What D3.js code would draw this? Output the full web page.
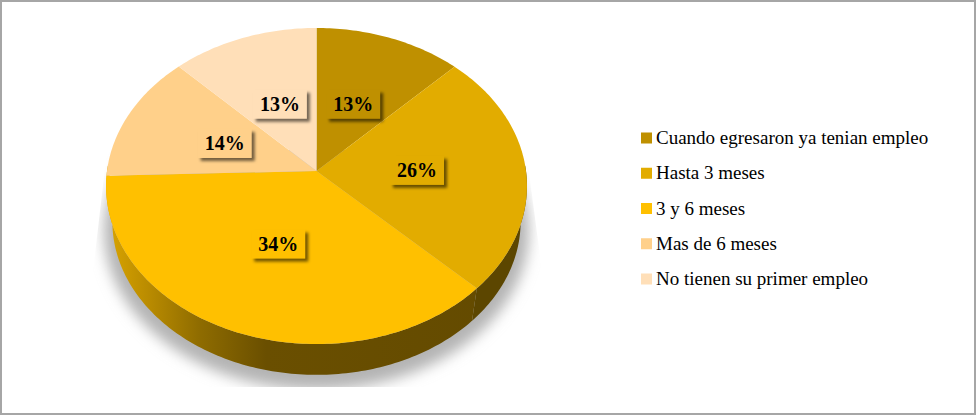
<!DOCTYPE html>
<html>
<head>
<meta charset="utf-8">
<script src="https://cdn.jsdelivr.net/npm/d3@7"></script>
<style>
	html, body { margin: 0; padding: 0; background: #fff; }
	svg { display: block; font-family: "Liberation Serif", serif; }
</style>
</head>
<body>
<svg id="chart" width="976" height="415"></svg>
<script>
const categories = [
	"Cuando egresaron ya tenian empleo",
	"Hasta 3 meses",
	"3 y 6 meses",
	"Mas de 6 meses",
	"No tienen su primer empleo",
];
const percents = [13, 26, 34, 14, 13];
const sliceColors = ["#bf9000", "#e2ac00", "#ffc000", "#ffd08a", "#ffdfb8"];

const width = 976,
	height = 415;

// pie centre and the perspective of the tilted disc
const cx = 316.5,
	cy = 171,
	rX = 209.5,
	rY = 156.6,
	persp = 0.095,
	depth = 36,
	lowerScale = 0.97,
	labelRadius = 0.48;

const svg = d3.select("#chart");
const defs = svg.append("defs");

// the 3d view of the original squeezes and stretches the sweep of each slice
const tilt = d3.scaleLinear().domain([0, 46.8, 140.4, 262.8, 313.2, 360]).range([0, 44.7, 134.4, 268.3, 315.4, 360]);

const slices = d3
	.pie()
	.sort(null)
	.value((d) => d)(percents)
	.map((d, i) => ({
		i,
		value: d.value,
		a0: tilt((d.startAngle * 180) / Math.PI),
		a1: tilt((d.endAngle * 180) / Math.PI),
	}));

function project(deg, r = 1, s = 1, dy = 0) {
	const a = (deg * Math.PI) / 180;
	const u = Math.sin(a) * r,
		v = -Math.cos(a) * r,
		w = 1 - persp * v;
	return [cx + (rX * s * u) / w, cy + dy + (rY * s * v) / w];
}

const line = d3.line();
const arcPoints = (a0, a1, s, dy) => d3.range(a0, a1, 1).concat(a1).map((a) => project(a, 1, s, dy));

const blur = defs.append("filter").attr("id", "blur").attr("x", "-20%").attr("y", "-20%").attr("width", "140%").attr("height", "140%");
blur.append("feGaussianBlur").attr("stdDeviation", 7);

const boxShadow = defs.append("filter").attr("id", "boxShadow").attr("x", "-30%").attr("y", "-30%").attr("width", "170%").attr("height", "170%");
boxShadow.append("feGaussianBlur").attr("stdDeviation", 1.6);

const wallGradient = defs
	.append("linearGradient")
	.attr("id", "wallGradient")
	.attr("gradientUnits", "userSpaceOnUse")
	.attr("x1", cx - rX)
	.attr("x2", cx + rX)
	.attr("y1", 0)
	.attr("y2", 0);
[
	[0, "#d9a400"],
	[0.1, "#b98b00"],
	[0.22, "#8f6c00"],
	[0.38, "#6a4f00"],
	[1, "#634a00"],
].forEach(([o, c]) => wallGradient.append("stop").attr("offset", o).attr("stop-color", c));

// chart frame
svg
	.append("rect")
	.attr("x", 1)
	.attr("y", 1)
	.attr("width", width - 2)
	.attr("height", height - 2)
	.attr("fill", "#fff")
	.attr("stroke", "#a6a6a6")
	.attr("stroke-width", 2);

// shadow under the pie, cut off by its box like in the original
defs
	.append("clipPath")
	.attr("id", "shadowClip")
	.append("path")
	.attr("d", "M107,150L93,272V387H541V263L526,150Z");

svg
	.append("g")
	.attr("clip-path", "url(#shadowClip)")
	.append("path")
	.attr("d", line(arcPoints(0, 360, 1.01, 44)) + "Z")
	.attr("fill", "#b4b4b4")
	.attr("filter", "url(#blur)");

// side wall of the disc
const lower = lowerScale;
svg
	.append("g")
	.selectAll("path")
	.data(slices.filter((d) => d.a0 < 272 && d.a1 > 88))
	.join("path")
	.attr("d", (d) => {
		const a0 = Math.max(d.a0, 88),
			a1 = Math.min(d.a1, 272);
		return line(arcPoints(a0, a1, 1, 0).concat(arcPoints(a0, a1, lower, depth).reverse())) + "Z";
	})
	.attr("fill", (d) => (d.i === 1 ? "#5c4600" : "url(#wallGradient)"));

// top of the disc
svg
	.append("g")
	.selectAll("path")
	.data(slices)
	.join("path")
	.attr("d", (d) => line([[cx, cy]].concat(arcPoints(d.a0, d.a1, 1, 0))) + "Z")
	.attr("fill", (d) => sliceColors[d.i]);

// value labels on their boxes
const boxW = 54,
	boxH = 29;
const label = svg
	.append("g")
	.selectAll("g")
	.data(slices)
	.join("g")
	.attr("transform", (d) => `translate(${project((d.a0 + d.a1) / 2, labelRadius)})`);
label
	.append("rect")
	.attr("x", -boxW / 2 + 3)
	.attr("y", -boxH / 2 + 3)
	.attr("width", boxW)
	.attr("height", boxH)
	.attr("fill", "#000")
	.attr("fill-opacity", 0.55)
	.attr("filter", "url(#boxShadow)");
label
	.append("rect")
	.attr("x", -boxW / 2)
	.attr("y", -boxH / 2)
	.attr("width", boxW)
	.attr("height", boxH)
	.attr("fill", (d) => sliceColors[d.i]);
label
	.append("text")
	.attr("text-anchor", "middle")
	.attr("y", 7)
	.attr("font-size", 20)
	.attr("font-weight", "bold")
	.attr("fill", "#000")
	.text((d) => d.value + "%");

// legend
const legendY = d3.scalePoint().domain(categories).range([138, 279]);
const legend = svg
	.append("g")
	.selectAll("g")
	.data(categories)
	.join("g")
	.attr("transform", (d) => `translate(641,${legendY(d)})`);
legend
	.append("rect")
	.attr("x", 0)
	.attr("y", -5.5)
	.attr("width", 11)
	.attr("height", 11)
	.attr("fill", (d, i) => sliceColors[i]);
legend
	.append("text")
	.attr("x", 15)
	.attr("y", 6)
	.attr("font-size", 19)
	.attr("fill", "#000")
	.text((d) => d);
</script>
</body>
</html>
